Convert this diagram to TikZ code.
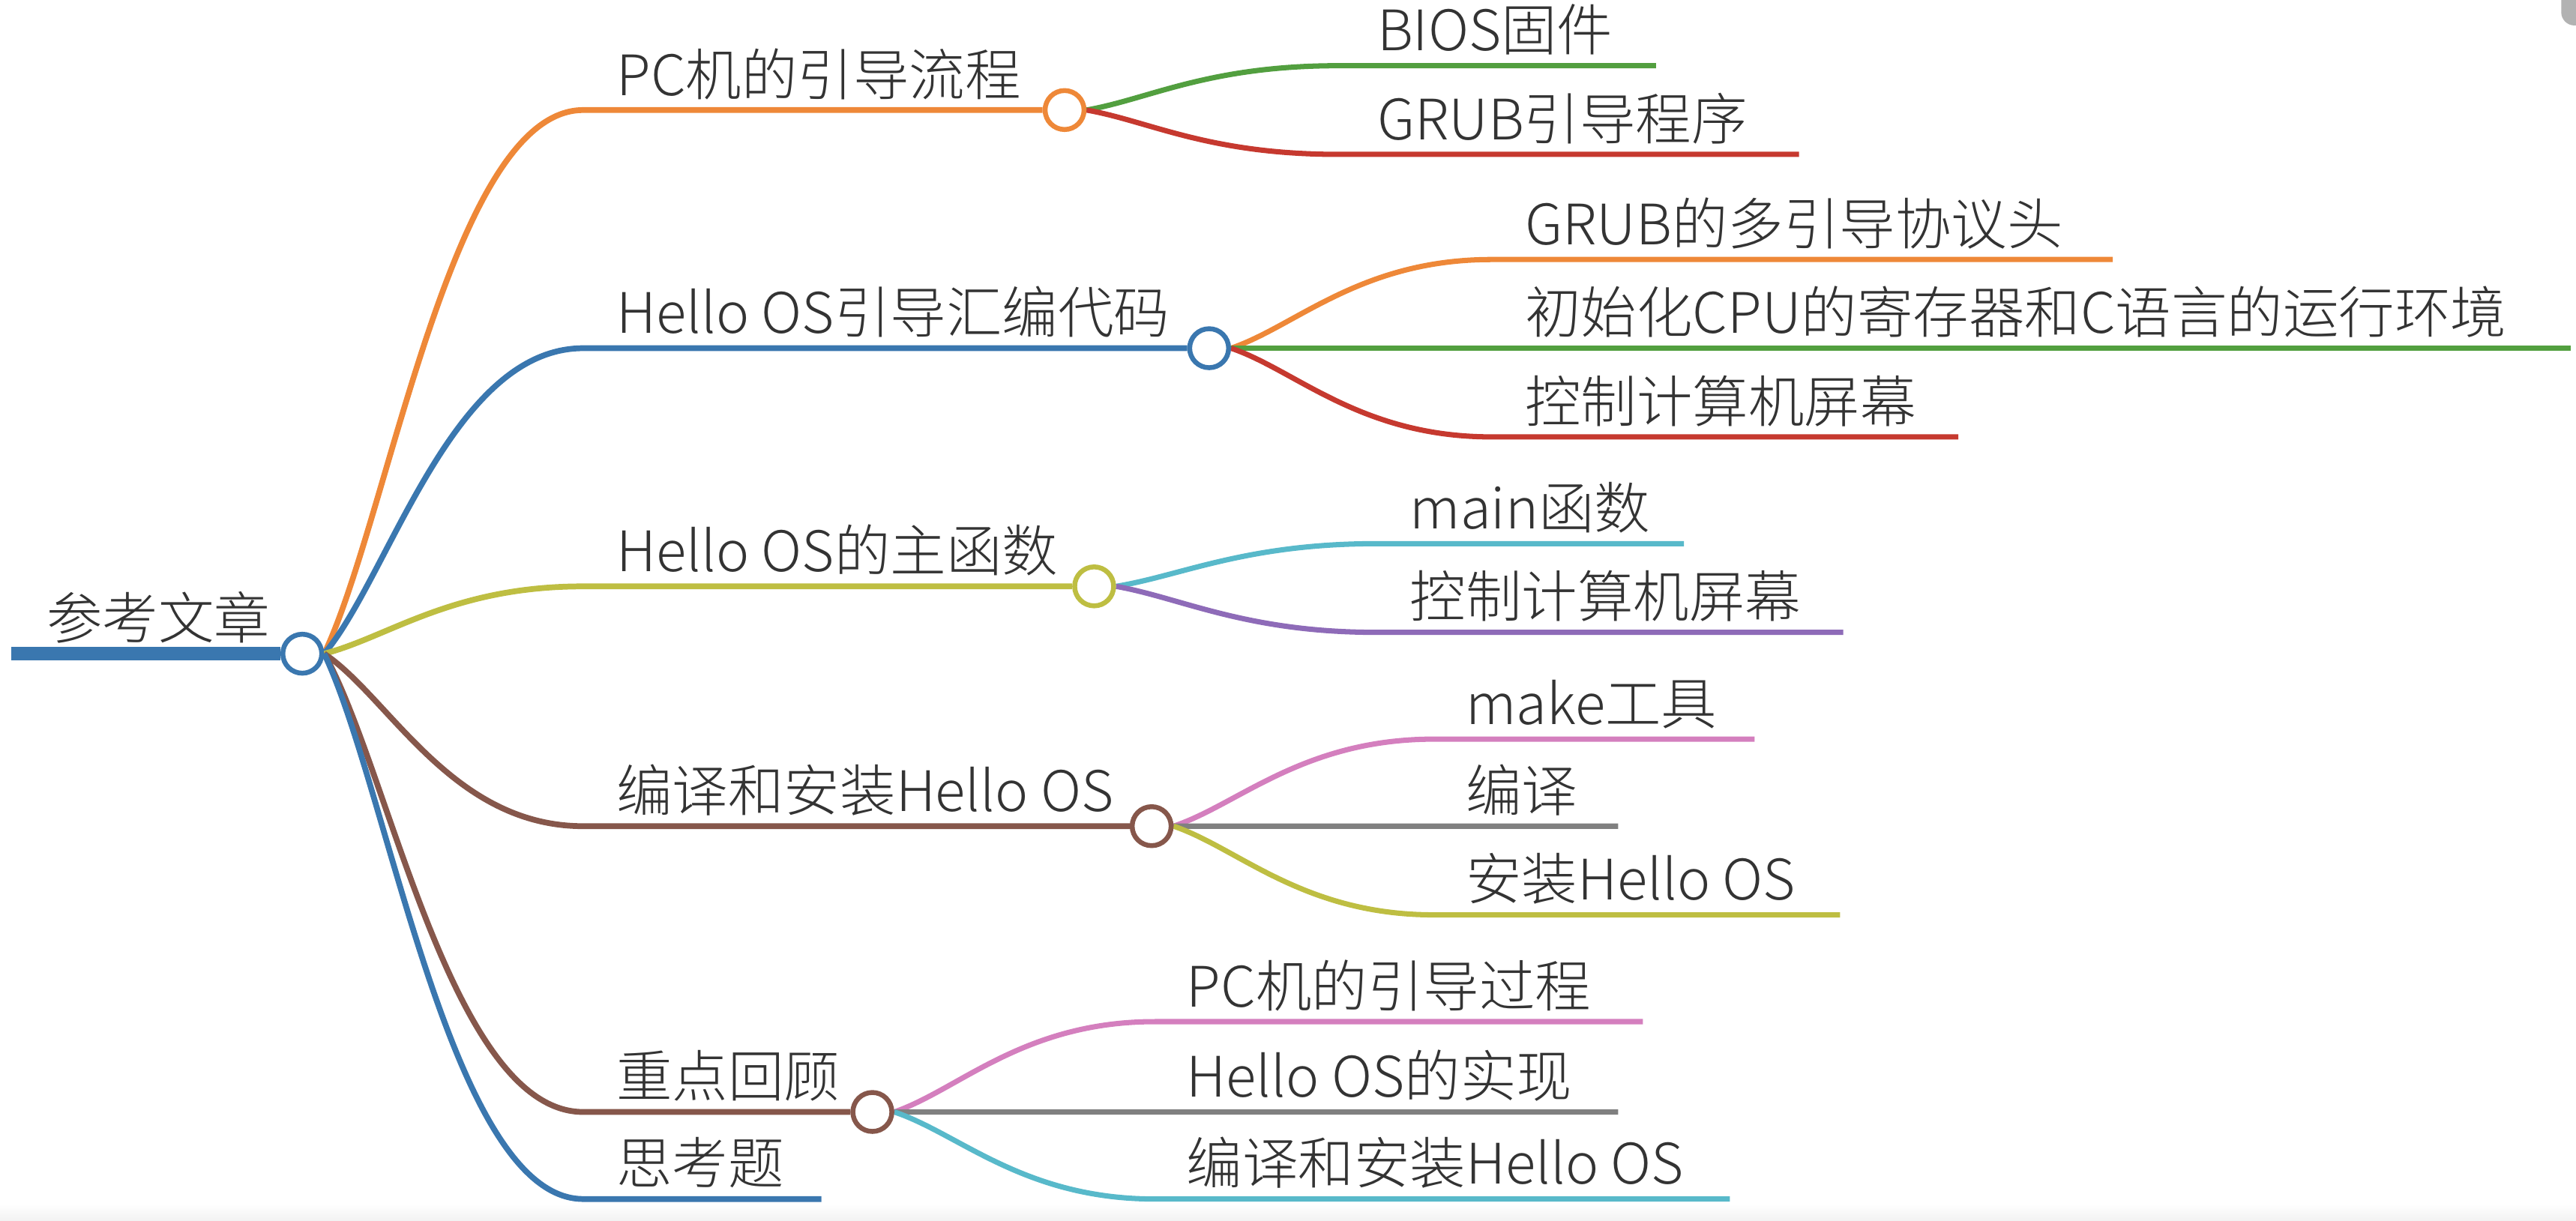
\documentclass[tikz,border=0pt]{standalone}
\usepackage{fontspec}
\setmainfont{Noto Sans CJK SC}[UprightFont=* Light]
\usepackage{tikz}
\usetikzlibrary{calc}
\pgfdeclarelayer{bg}
\pgfsetlayers{bg,main}
\definecolor{cblue}{HTML}{3A77AF}
\definecolor{corange}{HTML}{EE8838}
\definecolor{colive}{HTML}{BEBE42}
\definecolor{cbrown}{HTML}{86574B}
\definecolor{cgreen}{HTML}{529F3F}
\definecolor{cred}{HTML}{C6392F}
\definecolor{ccyan}{HTML}{58B9CA}
\definecolor{cpurple}{HTML}{8E6BB8}
\definecolor{cpink}{HTML}{D47FBE}
\definecolor{cgray}{HTML}{808080}
\definecolor{ctext}{HTML}{333333}
\tikzset{
    topic/.style={anchor=base west, inner sep=0pt, text=ctext, font=\fontsize{21.2pt}{25pt}\selectfont},
    knot/.style={circle, draw=#1, fill=white, line width=1.85pt, minimum size=5.2mm, inner sep=0pt},
    trunk/.style={draw=#1, line width=2.2pt},
    twig/.style={draw=#1, line width=2pt},
    branch/.style={to path={.. controls ($(\tikztostart)!.25!(\tikztotarget)$) and ($(\tikztotarget)+(-80,0)$) .. (\tikztotarget)}}
}

\begin{document}
\begin{tikzpicture}[x=0.21913mm, y=-0.21913mm]
    \useasboundingbox (0,0) rectangle (1568,743);
    \shade[top color=white, bottom color=black!5] (0,733) rectangle (1568,743);
    \fill[black!30, rounded corners=5] (1559,-10) rectangle (1580,15.5);

    \node[knot=cblue] at (184,398) (root) {};
    \node[topic] at (28,389) (roottxt) {参考文章};
    \coordinate (rootin) at (7,398);

    \node[knot=corange] at (648,67) (pc) {};
    \node[knot=cblue] at (736,212) (asm) {};
    \node[knot=colive] at (666,357) (mainos) {};
    \node[knot=cbrown] at (701,503) (build) {};
    \node[knot=cbrown] at (531,677) (review) {};
    \coordinate (pcin) at (355,67);
    \coordinate (asmin) at (355,212);
    \coordinate (mainosin) at (355,357);
    \coordinate (buildin) at (355,503);
    \coordinate (reviewin) at (355,677);
    \coordinate (thinkin) at (355,730);
    \coordinate (thinkout) at (500,730);
    \node[topic] at (375,58) (pctxt) {PC机的引导流程};
    \node[topic] at (375,203) (asmtxt) {Hello OS引导汇编代码};
    \node[topic] at (375,348) (mainostxt) {Hello OS的主函数};
    \node[topic] at (375,494) (buildtxt) {编译和安装Hello OS};
    \node[topic] at (375,668) (reviewtxt) {重点回顾};
    \node[topic] at (375,721) (thinktxt) {思考题};

    \node[topic] at (838,31) (bios) {BIOS固件};
    \node[topic] at (838,85) (grub) {GRUB引导程序};
    \node[topic] at (928,149) (mbh) {GRUB的多引导协议头};
    \node[topic] at (928,203) (init) {初始化CPU的寄存器和C语言的运行环境};
    \node[topic] at (928,257) (scra) {控制计算机屏幕};
    \node[topic] at (858,322) (mainfn) {main函数};
    \node[topic] at (858,376) (scrb) {控制计算机屏幕};
    \node[topic] at (892,441) (make) {make工具};
    \node[topic] at (892,494) (comp) {编译};
    \node[topic] at (892,548) (inst) {安装Hello OS};
    \node[topic] at (722,613) (boot) {PC机的引导过程};
    \node[topic] at (722,668) (impl) {Hello OS的实现};
    \node[topic] at (722,721) (bldos) {编译和安装Hello OS};
    \coordinate (biosin) at (815,40);     \coordinate (biosout) at (1008,40);
    \coordinate (grubin) at (815,94);     \coordinate (grubout) at (1095,94);
    \coordinate (mbhin) at (908,158);     \coordinate (mbhout) at (1286,158);
    \coordinate (initin) at (908,212);    \coordinate (initout) at (1565,212);
    \coordinate (scrain) at (908,266);    \coordinate (scraout) at (1192,266);
    \coordinate (mainfnin) at (838,331);  \coordinate (mainfnout) at (1025,331);
    \coordinate (scrbin) at (838,385);    \coordinate (scrbout) at (1122,385);
    \coordinate (makein) at (873,450);    \coordinate (makeout) at (1068,450);
    \coordinate (compin) at (873,503);    \coordinate (compout) at (985,503);
    \coordinate (instin) at (873,557);    \coordinate (instout) at (1120,557);
    \coordinate (bootin) at (703,622);    \coordinate (bootout) at (1000,622);
    \coordinate (implin) at (703,677);    \coordinate (implout) at (985,677);
    \coordinate (bldosin) at (703,730);   \coordinate (bldosout) at (1053,730);

    \begin{pgfonlayer}{bg}
    \draw[draw=cblue, line width=5pt] (rootin) -- (root.west);
    \draw[trunk=corange] (root.east) to[branch] (pcin) -- (pc.west);
    \draw[trunk=cblue] (root.east) to[branch] (asmin) -- (asm.west);
    \draw[trunk=colive] (root.east) to[branch] (mainosin) -- (mainos.west);
    \draw[trunk=cbrown] (root.east) to[branch] (buildin) -- (build.west);
    \draw[trunk=cbrown] (root.east) to[branch] (reviewin) -- (review.west);
    \draw[trunk=cblue] (root.east) to[branch] (thinkin) -- (thinkout);
    \draw[twig=cgreen] (pc.east) to[branch] (biosin) -- (biosout);
    \draw[twig=cred] (pc.east) to[branch] (grubin) -- (grubout);
    \draw[twig=corange] (asm.east) to[branch] (mbhin) -- (mbhout);
    \draw[twig=cgreen] (asm.east) to[branch] (initin) -- (initout);
    \draw[twig=cred] (asm.east) to[branch] (scrain) -- (scraout);
    \draw[twig=ccyan] (mainos.east) to[branch] (mainfnin) -- (mainfnout);
    \draw[twig=cpurple] (mainos.east) to[branch] (scrbin) -- (scrbout);
    \draw[twig=cpink] (build.east) to[branch] (makein) -- (makeout);
    \draw[twig=cgray] (build.east) to[branch] (compin) -- (compout);
    \draw[twig=colive] (build.east) to[branch] (instin) -- (instout);
    \draw[twig=cpink] (review.east) to[branch] (bootin) -- (bootout);
    \draw[twig=cgray] (review.east) to[branch] (implin) -- (implout);
    \draw[twig=ccyan] (review.east) to[branch] (bldosin) -- (bldosout);
    \end{pgfonlayer}
\end{tikzpicture}
\end{document}
